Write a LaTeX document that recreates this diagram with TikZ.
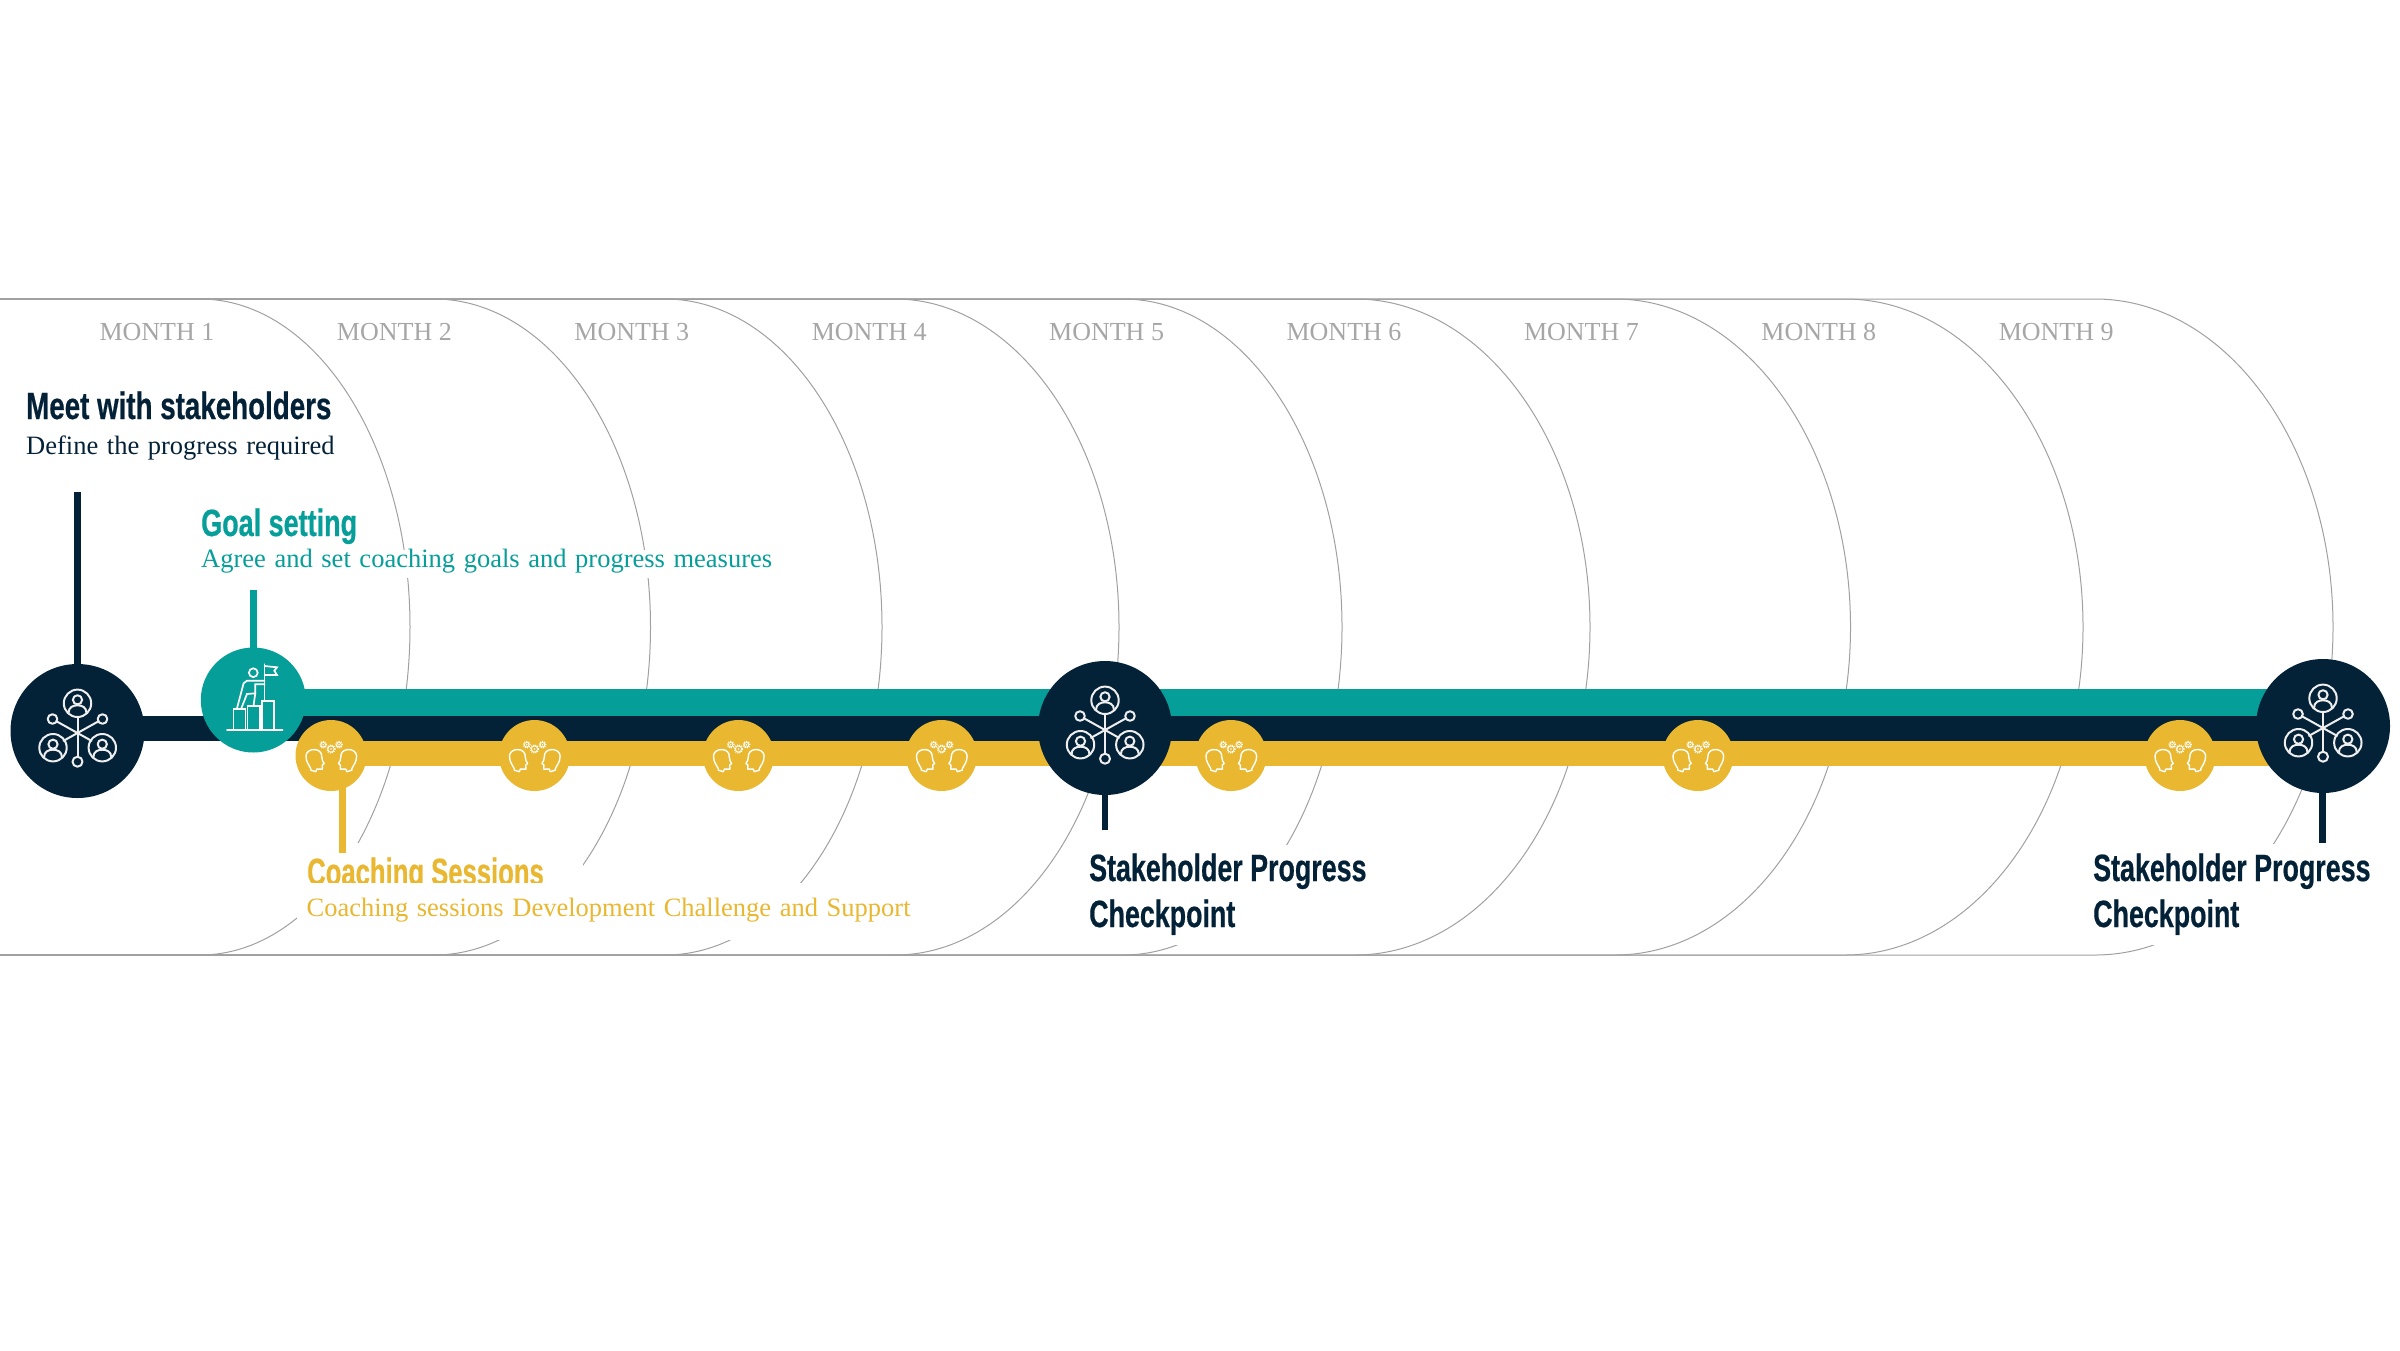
\documentclass[tikz,border=0pt]{standalone}
\usepackage{fontspec}
\setmainfont{Liberation Serif}
\newfontfamily\subfont[WordSpace=1.3]{Liberation Serif}
\newfontfamily\hdM[FakeStretch=0.73,FakeBold=0.5]{Liberation Sans}
\newfontfamily\hdG[FakeStretch=0.71,FakeBold=0.5]{Liberation Sans}
\newfontfamily\hdS[FakeStretch=0.706,FakeBold=0.5]{Liberation Sans}
\newfontfamily\hdC[FakeStretch=0.675,FakeBold=0.5]{Liberation Sans}
\definecolor{navy}{HTML}{042237}
\definecolor{teal2}{HTML}{069E99}
\definecolor{gold}{HTML}{E9B730}
\definecolor{greyline}{HTML}{A0A0A0}
\definecolor{greytext}{HTML}{A6A6A6}
\definecolor{iconw}{HTML}{EEEEEE}
\newcommand{\thinkheadpath}{
  \draw[draw=white,line width=1.4pt,line join=round,line cap=round]
      (-20.3,13) .. controls (-22,9) and (-25,7) .. (-25,0.5)
      .. controls (-25,-3.5) and (-21,-6) .. (-17,-6)
      .. controls (-12,-6) and (-9,-3) .. (-9.2,1.5)
      -- (-8.5,5.2) -- (-6.8,8) -- (-8.8,9.5) -- (-8.6,13.6) -- (-14.2,13.6) -- (-15.2,16.2) -- (-20.3,14.6) -- cycle;
}
\tikzset{
  x=1pt,y=-1pt,
  tab/.style={draw=greyline,line width=1pt},
  mask/.style={fill=white,draw=none},
  band/.style={line width=#1,line cap=butt},
  monthlabel/.style={anchor=base,inner sep=0pt,text=greytext,font=\fontsize{26}{30}\selectfont},
  headm/.style={anchor=base west,inner sep=0pt,font=\hdM\bfseries\fontsize{38}{44}\selectfont},
  headg/.style={anchor=base west,inner sep=0pt,font=\hdG\bfseries\fontsize{38}{44}\selectfont},
  heads/.style={anchor=base west,inner sep=0pt,font=\hdS\bfseries\fontsize{38}{44}\selectfont},
  headc/.style={anchor=base west,inner sep=0pt,font=\hdC\bfseries\fontsize{38}{44}\selectfont},
  sub/.style={anchor=base west,inner sep=0pt,font=\subfont\fontsize{26.5}{30}\selectfont},
  dot/.style={circle,inner sep=0pt,minimum size=#1},
  ic/.style={draw=iconw,line width=2pt,line cap=round,line join=round},
  iw/.style={draw=white,line width=1.7pt,line cap=round,line join=miter},
  people/.pic={
    \foreach \px/\py in {0/-27.7,-24.5/16.7,24.8/16.7}{
      \begin{scope}[shift={(\px,\py)}]
        \draw[ic] (0,0) circle[radius=13.7pt];
        \draw[ic] (0,-3.5) circle[radius=4.6pt];
        \draw[ic] (-9,9.8) .. controls (-9,3.5) and (-4,2) .. (0,2) .. controls (4,2) and (9,3.5) .. (9,9.8);
      \end{scope}
    }
    \draw[ic] (0,-14) -- (0,25.7);
    \draw[ic] (-20.8,-9.6) -- (14,9.8);
    \draw[ic] (20.8,-9.6) -- (-14,9.8);
    \draw[ic] (-25,-12) circle[radius=4.8pt];
    \draw[ic] (25,-12) circle[radius=4.8pt];
    \draw[ic] (0,30.7) circle[radius=5pt];
  },
  goalicon/.pic={
    \draw[iw] (-26.3,30) -- (29.3,30);
    \draw[iw] (-19.7,30) -- (-19.7,9.3) -- (-7.7,9.3) -- (-7.7,30);
    \draw[iw] (-5.7,30) -- (-5.7,6) -- (7,6) -- (7,30);
    \draw[iw] (8.7,30) -- (8.7,0.7) -- (21,0.7) -- (21,30);
    \draw[iw] (11.3,0.7) -- (11.3,-35.7);
    \draw[iw] (11.3,-34) -- (23.7,-32.7) -- (21,-29.3) -- (23.7,-25) -- (11.3,-25);
    \draw[iw] (0,-27.3) circle[radius=4.4pt];
    \draw[iw] (11.3,-19.3) -- (-6.3,-19.3) -- (-9.7,-16.7) -- (-16.3,8.3);
    \draw[iw] (11.3,-15.7) -- (2,-15.7) -- (2,-6.7) -- (-6.3,-6) -- (-12,8.3);
    \draw[iw] (2,-6.7) -- (0.3,5);
  },
  coachicon/.pic={
    \thinkheadpath
    \begin{scope}[xscale=-1,xshift=-0.6pt]\thinkheadpath\end{scope}
    \foreach \gx/\gy/\gr in {-7.8/-10.8/2.3,0/-6.5/3.1,8/-10.8/2.3}{
      \draw[white,line width=0.8pt] (\gx,\gy) circle[radius=\gr pt];
      \draw[white,line width=1.2pt,dash pattern=on 1.1pt off 1.1pt] (\gx,\gy) circle[radius=\gr pt+1pt];
      \fill[white] (\gx,\gy) circle[radius=0.8pt];
    }
  },
}
\begin{document}
\begin{tikzpicture}
\useasboundingbox (0,0) rectangle (2400,1350);
% month tabs
\foreach \c/\rx in {200/210,434/216.5,665/217,895/224,1123/219,1355/235,1615/235.5,1845/238,2095/238}{
  \draw[tab] (0,299) -- (\c,299) arc[start angle=90,end angle=-90,x radius=\rx pt,y radius=328pt] -- (0,955);
}
% month labels
\foreach \i in {1,...,9}{
  \pgfmathsetmacro{\mx}{157+237.4*(\i-1)}
  \node[monthlabel] (m\i) at (\mx,340) {MONTH \i};
}
% top-left texts
\node[headm,text=navy] (meetT) at (26,419) {Meet with stakeholders};
\node[sub,text=navy] (meetS) at (26,454) {Define the progress required};
\node[headg,text=teal2] (goalT) at (201,536) {Goal setting};
\fill[mask] (195,550) rectangle (780,578);
\node[sub,text=teal2] (goalS) at (201,567) {Agree and set coaching goals and progress measures};
% coaching text with its white masks
\fill[mask] (297,843) rectangle (583,883);
\node[headc,text=gold] (coachT) at (307,885) {Coaching Sessions};
\fill[mask] (297,882.5) rectangle (925,940);
\node[sub,text=gold] (coachS) at (306.5,916) {Coaching sessions Development Challenge and Support};
% checkpoint texts
\fill[mask] (1085,845) rectangle (1375,945);
\node[heads,text=navy] (cp1a) at (1089,881) {Stakeholder Progress};
\node[heads,text=navy] (cp1b) at (1089,927) {Checkpoint};
\fill[mask] (2090,844) rectangle (2385,945);
\node[heads,text=navy] (cp2a) at (2093,881) {Stakeholder Progress};
\node[heads,text=navy] (cp2b) at (2093,927) {Checkpoint};
% anchors for bands and stems
\coordinate (tealS) at (253,702.5);
\coordinate (tealE) at (2323,702.5);
\coordinate (navyS) at (77,728.5);
\coordinate (navyE) at (2323,728.5);
\coordinate (goldS) at (331,753.5);
\coordinate (goldE) at (2323,753.5);
\coordinate (s1top) at (77.5,492);
\coordinate (s2top) at (253.3,590);
\coordinate (s3bot) at (342.6,853);
\coordinate (s4bot) at (1105,830);
\coordinate (s5bot) at (2322.5,843);
\coordinate (s3top) at (342.6,770);
% bands
\draw[teal2,band=27.5pt] (tealS) -- (tealE);
\draw[navy,band=25.5pt] (navyS) -- (navyE);
\draw[gold,band=25pt] (goldS) -- (goldE);
% stems
\draw[navy,line width=6.2pt] (77.5,731) -- (s1top);
\draw[teal2,line width=6.6pt] (253.3,700) -- (s2top);
\draw[gold,line width=6.3pt] (s3top) -- (s3bot);
\draw[navy,line width=6.4pt] (1105,728) -- (s4bot);
\draw[navy,line width=6.4pt] (2322.5,726) -- (s5bot);
% big nodes
\node[dot=134pt,fill=navy] (n1) at (77.5,731) {};
\node[dot=105pt,fill=teal2] (g1) at (253.3,700) {};
\node[dot=134pt,fill=navy] (n2) at (1105,728) {};
\node[dot=134pt,fill=navy] (n3) at (2323,726) {};
\foreach \i/\xx in {1/331,2/534.5,3/738.5,4/941.5,5/1231,6/1698,7/2180}{
  \node[dot=71pt,fill=gold] (y\i) at (\xx,755.5) {};
  \pic at (\xx,755.5) {coachicon};
}
% icons
\pic at (n1) {people};
\pic at (n2) {people};
\pic at (n3) {people};
\pic at (g1) {goalicon};
\end{tikzpicture}
\end{document}
